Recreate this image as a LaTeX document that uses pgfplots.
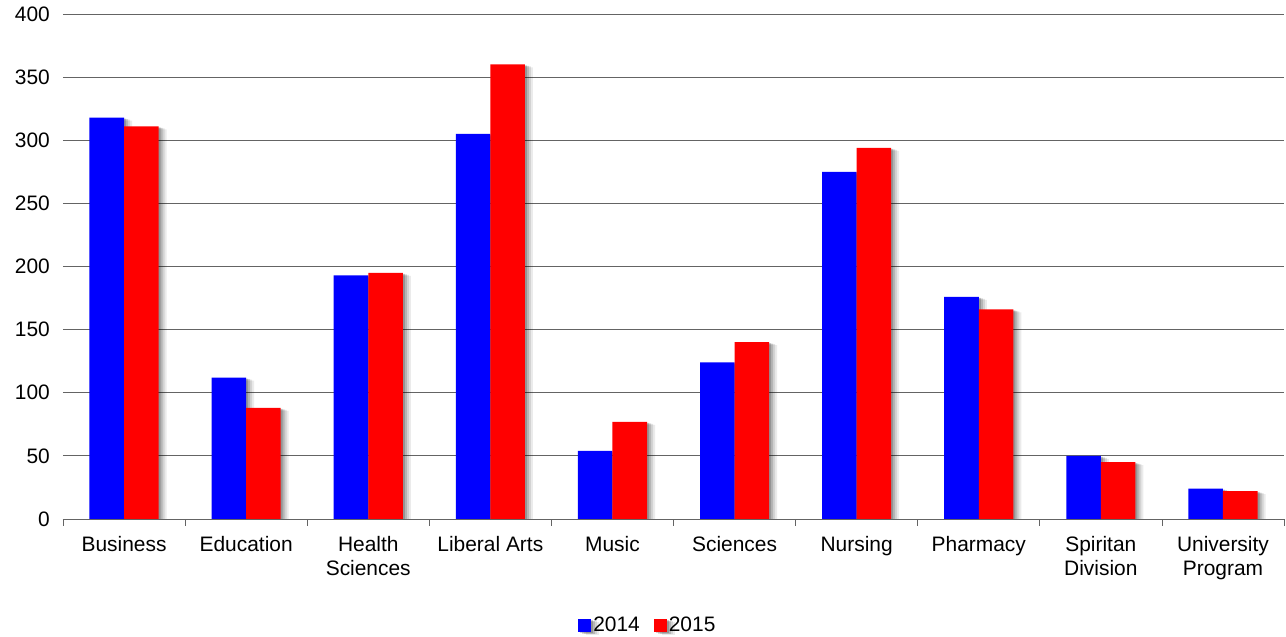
\documentclass[border=0pt]{standalone}
\usepackage{pgfplots}
\pgfplotsset{compat=1.18}
\usepackage{fontspec}
\setmainfont{Liberation Sans}

\definecolor{barblue}{RGB}{0,0,255}
\definecolor{barred}{RGB}{255,0,0}
\definecolor{gridgray}{RGB}{100,100,100}

\pgfplotsset{
  shadowed/.style={
    preaction={fill=black, opacity=0.08, transform canvas={xshift=8bp, yshift=-3bp}},
    preaction={fill=black, opacity=0.10, transform canvas={xshift=6bp, yshift=-2bp}},
    preaction={fill=black, opacity=0.14, transform canvas={xshift=4bp, yshift=-1.5bp}},
    preaction={fill=black, opacity=0.18, transform canvas={xshift=2bp, yshift=-1bp}},
  },
}

\begin{document}
\fontsize{21}{25}\selectfont
\begin{tikzpicture}
\begin{axis}[
    name=ax,
    scale only axis,
    width=1221bp,
    height=505bp,
    ybar=0pt,
    bar width=0.283,
    xmin=-0.5, xmax=9.5,
    ymin=0, ymax=400,
    ytick={0,50,...,400},
    xtick={0,1,...,9},
    xticklabels={Business, Education, {Health\\Sciences}, Liberal Arts, Music,
                 Sciences, Nursing, Pharmacy, {Spiritan\\Division}, {University\\Program}},
    xticklabel style={align=center, font=\fontsize{21}{24}\selectfont, yshift=-10bp},
    yticklabel style={font=\fontsize{21}{25}\selectfont, xshift=-6bp},
    major x tick style={draw=none},
    ytick style={draw=none},
    minor xtick={-0.5,0.5,...,9.5},
    minor x tick style={gridgray, thick},
    minor tick length=7bp,
    major tick length=0pt,
    tick align=outside,
    axis x line*=bottom,
    axis y line*=left,
    y axis line style={draw=none},
    x axis line style={gridgray, thick, -},
    ymajorgrids,
    grid style={gridgray, thick},
    /pgf/number format/assume math mode=true,
    legend columns=2,
    legend style={at={(0.479,-0.212)}, anchor=center, draw=none, fill=none,
                  font=\fontsize{21}{25}\selectfont,
                  /tikz/every even column/.append style={column sep=12bp}},
    legend image code/.code={\fill[#1] (0bp,-6bp) rectangle (13bp,7bp);},
    clip=true,
]
\addplot[fill=barblue, draw=none, shadowed] coordinates {
    (0,318) (1,112) (2,193) (3,305) (4,54) (5,124) (6,275) (7,176) (8,50) (9,24)
};
\addplot[fill=barred, draw=none, shadowed] coordinates {
    (0,311) (1,88) (2,195) (3,360) (4,77) (5,140) (6,294) (7,166) (8,45) (9,22)
};
\legend{2014, 2015}
\end{axis}
\pgfresetboundingbox
\path ([xshift=-63bp, yshift=-118bp]ax.south west) rectangle ([xshift=2bp, yshift=14bp]ax.north east);
\end{tikzpicture}
\end{document}
